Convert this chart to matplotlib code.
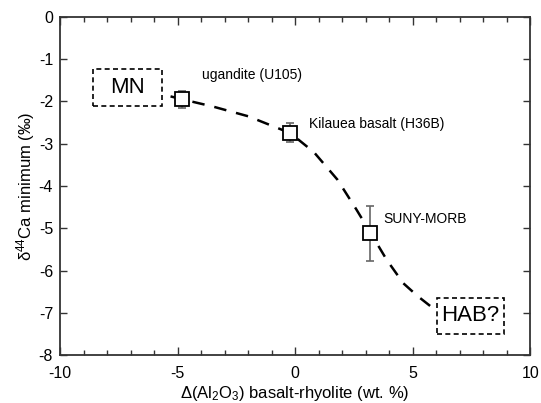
import matplotlib
matplotlib.use('Agg')
import matplotlib.pyplot as plt
from matplotlib.patches import Rectangle

plt.rcParams['font.family'] = ['Liberation Sans', 'DejaVu Sans']
plt.rcParams['mathtext.default'] = 'regular'
plt.rcParams['axes.unicode_minus'] = False

# samples: delta Al2O3 vs minimum d44Ca
names = ['ugandite (U105)', 'Kilauea basalt (H36B)', 'SUNY-MORB']
dal = [-4.8, -0.2, 3.2]
dca = [-1.95, -2.75, -5.12]
err_lo = [0.2, 0.22, 0.65]
err_hi = [0.2, 0.25, 0.65]

# hand-drawn trend line
trend_x = [-5.3, -4.8, -3.5, -2.0, -0.2, 0.8, 1.8, 2.6, 3.2, 3.9, 4.6, 5.2, 6.0]
trend_y = [-1.88, -1.95, -2.12, -2.35, -2.75, -3.2, -3.85, -4.55, -5.1, -5.75, -6.3, -6.6, -6.95]

fig = plt.figure(figsize=(5.41, 4.03), dpi=100)
ax = fig.add_axes([0.111, 0.119, 0.869, 0.839])

ax.plot(trend_x, trend_y, color='black', linestyle=(0, (5, 4)), linewidth=1.8, zorder=2)
ax.errorbar(dal, dca, yerr=[err_lo, err_hi], fmt='none', ecolor='#666666',
            elinewidth=1.2, capsize=3, capthick=1.2, zorder=3)
ax.plot(dal, dca, 's', markersize=9.5, markerfacecolor='white',
        markeredgecolor='black', markeredgewidth=1.3, zorder=4)

ax.text(-3.97, -1.48, names[0], fontsize=10)
ax.text(0.6, -2.62, names[1], fontsize=10)
ax.text(3.76, -4.88, names[2], fontsize=10)

# end-member boxes
ax.add_patch(Rectangle((-8.6, -2.11), 2.92, 0.88, fill=False, linestyle=(0, (3, 2)),
                       linewidth=1.2, edgecolor='black'))
ax.text(-7.14, -1.67, 'MN', fontsize=16, ha='center', va='center')
ax.add_patch(Rectangle((6.03, -7.5), 2.87, 0.85, fill=False, linestyle=(0, (3, 2)),
                       linewidth=1.2, edgecolor='black'))
ax.text(7.46, -7.07, 'HAB?', fontsize=16, ha='center', va='center')

ax.set_xlim(-10, 10)
ax.set_ylim(-8, 0)
ax.set_xticks([-10, -5, 0, 5, 10])
ax.set_xticks(range(-10, 11), minor=True)
ax.set_yticks(range(-8, 1))
ax.tick_params(which='both', direction='in', top=True, right=True,
               width=1, color='#333333', labelsize=11.5)
ax.tick_params(which='major', length=6)
ax.tick_params(which='minor', length=3.5)
ax.tick_params(axis='x', which='major', pad=8)
ax.tick_params(axis='y', which='major', length=5, pad=5)
for s in ax.spines.values():
    s.set_color('#333333')
    s.set_linewidth(1.3)

ax.set_xlabel(r'$\Delta$(Al$_2$O$_3$) basalt-rhyolite (wt. %)', fontsize=12, labelpad=2)
ax.set_ylabel('δ$^{44}$Ca minimum (‰)', fontsize=12, labelpad=1)

fig.savefig('out.png', dpi=100)
